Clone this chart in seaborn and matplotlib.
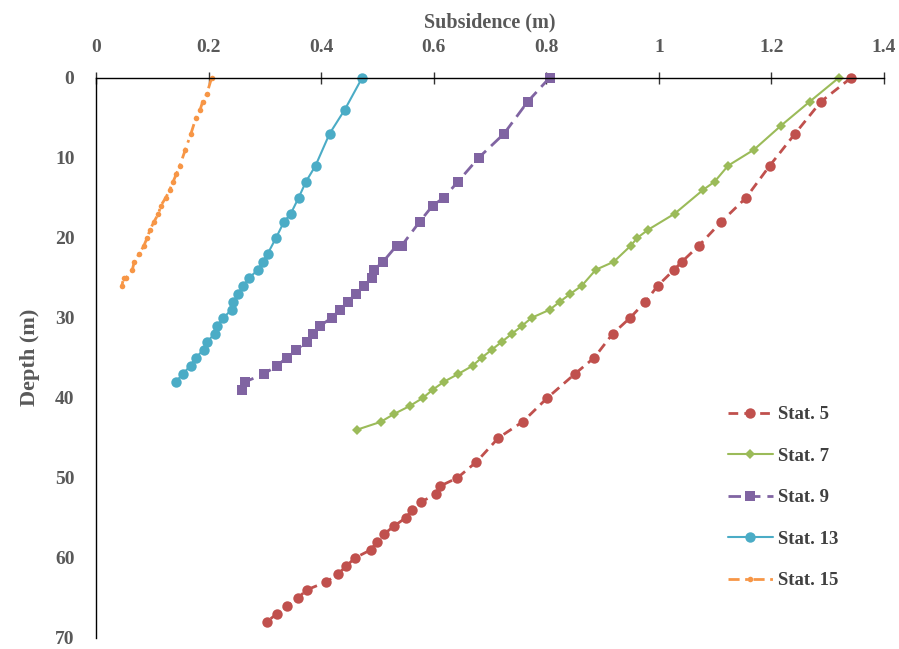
import pandas as pd
import matplotlib
matplotlib.use("Agg")
import matplotlib.pyplot as plt
import seaborn as sns

# Subsidence profiles (depth in m, subsidence in m)
st5_depth = [0, 3, 7, 11, 15, 18, 21, 23, 24, 26, 28, 30, 32, 35, 37, 40, 43, 45, 48, 50,
             51, 52, 53, 54, 55, 56, 57, 58, 59, 60, 61, 62, 63, 64, 65, 66, 67, 68]
st5_sub = [1.342, 1.288, 1.242, 1.197, 1.155, 1.111, 1.071, 1.041, 1.027, 0.998, 0.976, 0.949,
           0.918, 0.885, 0.851, 0.802, 0.758, 0.715, 0.676, 0.642, 0.612, 0.604, 0.578, 0.562,
           0.550, 0.530, 0.512, 0.499, 0.488, 0.460, 0.445, 0.430, 0.409, 0.374, 0.359, 0.340,
           0.321, 0.303]

st7_depth = [0, 3, 6, 9, 11, 13, 14, 17, 19, 20, 21, 23, 24, 26, 27, 28, 29, 30, 31, 32,
             33, 34, 35, 36, 37, 38, 39, 40, 41, 42, 43, 44]
st7_sub = [1.320, 1.268, 1.217, 1.169, 1.123, 1.099, 1.079, 1.028, 0.981, 0.962, 0.950, 0.920,
           0.888, 0.863, 0.843, 0.824, 0.806, 0.774, 0.757, 0.739, 0.721, 0.703, 0.685, 0.669,
           0.644, 0.618, 0.598, 0.581, 0.558, 0.530, 0.506, 0.463]

st9_depth = [0, 3, 7, 10, 13, 15, 16, 18, 21, 21, 23, 24, 25, 26, 27, 28, 29, 30, 31, 32,
             33, 34, 35, 36, 37, 38, 39]
st9_sub = [0.806, 0.767, 0.725, 0.680, 0.643, 0.618, 0.598, 0.575, 0.543, 0.534, 0.510, 0.494,
           0.490, 0.476, 0.462, 0.447, 0.433, 0.419, 0.398, 0.386, 0.374, 0.356, 0.339, 0.321,
           0.299, 0.265, 0.259]

st13_depth = [0, 4, 7, 11, 13, 15, 17, 18, 20, 22, 23, 24, 25, 26, 27, 28, 29, 30, 31, 32,
              33, 34, 35, 36, 37, 38]
st13_sub = [0.473, 0.442, 0.415, 0.390, 0.373, 0.360, 0.346, 0.334, 0.320, 0.305, 0.296, 0.288,
            0.272, 0.262, 0.253, 0.244, 0.241, 0.226, 0.215, 0.211, 0.197, 0.191, 0.177, 0.168,
            0.154, 0.142]

st15_depth = [0, 2, 3, 4, 5, 7, 9, 11, 12, 13, 14, 15, 16, 17, 18, 19, 20, 21, 22, 23, 24, 25,
              25, 26]
st15_sub = [0.2055, 0.197, 0.1895, 0.185, 0.1776, 0.1687, 0.1587, 0.149, 0.143, 0.137, 0.131,
            0.124, 0.115, 0.111, 0.103, 0.096, 0.091, 0.085, 0.077, 0.068, 0.0645, 0.054, 0.049,
            0.046]

sns.set_style("white")
plt.rcParams['font.family'] = ['Liberation Serif', 'DejaVu Serif']

fig = plt.figure(figsize=(8.99, 6.49), dpi=100)
ax = fig.add_axes([0.1068, 0.0170, 0.8765, 0.8634])

# (label, depth, subsidence, colour, marker, markersize, dash pattern)
stations = [
    ("Stat. 5", st5_depth, st5_sub, "#C0504D", "o", 7.5, (3.5, 2.2)),
    ("Stat. 7", st7_depth, st7_sub, "#9BBB59", "D", 5, None),
    ("Stat. 9", st9_depth, st9_sub, "#8064A2", "s", 6.5, (4.5, 2.5)),
    ("Stat. 13", st13_depth, st13_sub, "#4BACC6", "o", 7.5, None),
    ("Stat. 15", st15_depth, st15_sub, "#F79646", "o", 4, (4, 2, 1, 2)),
]

for label, depth, sub, color, marker, ms, dash in stations:
    df = pd.DataFrame({"subsidence": sub, "depth": depth})
    lw = 2.0 if dash is not None else 1.5
    sns.lineplot(data=df, x="subsidence", y="depth", sort=False, estimator=None,
                 color=color, marker=marker, markersize=ms, markeredgewidth=0,
                 linewidth=lw, label=label, ax=ax)
    line = ax.lines[-1]
    line.set_clip_on(False)
    if dash is not None:
        line.set_dashes(dash)

ax.set_xlim(0, 1.4)
ax.set_ylim(70, 0)
ax.set_xticks([0, 0.2, 0.4, 0.6, 0.8, 1.0, 1.2, 1.4])
ax.set_xticklabels(["0", "0.2", "0.4", "0.6", "0.8", "1", "1.2", "1.4"])
ax.set_yticks(range(0, 71, 10))

ax.xaxis.tick_top()
ax.xaxis.set_label_position("top")
for side in ["right", "bottom"]:
    ax.spines[side].set_visible(False)
for side in ["top", "left"]:
    ax.spines[side].set_color("black")
    ax.spines[side].set_linewidth(1.0)

ax.tick_params(axis="both", direction="inout", length=9, width=1, color="#333333",
               labelsize=14, labelcolor="#595959", pad=11)
for lab in ax.get_xticklabels() + ax.get_yticklabels():
    lab.set_fontweight("bold")

ax.set_xlabel("Subsidence (m)", fontsize=14.5, fontweight="bold", color="#595959", labelpad=8)
ax.set_ylabel("Depth (m)", fontsize=16, fontweight="bold", color="#595959", labelpad=11)

leg = ax.legend(loc="upper left", bbox_to_anchor=(0.78, 0.444), frameon=False,
                fontsize=13.5, handlelength=2.4, handletextpad=0.3, labelspacing=1.3)
for txt in leg.get_texts():
    txt.set_fontweight("bold")
    txt.set_color("#404040")

plt.savefig("out.png", dpi=100)
